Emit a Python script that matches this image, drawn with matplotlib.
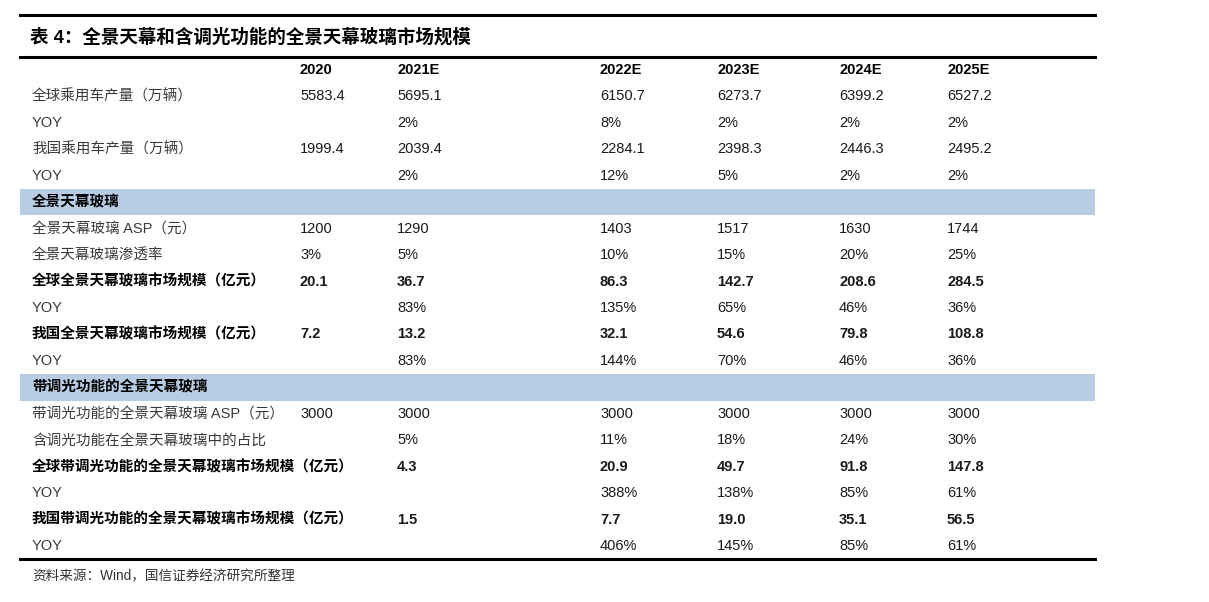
import matplotlib.pyplot as plt
from matplotlib.patches import Rectangle

plt.rcParams['font.family'] = ['Liberation Sans', 'Noto Sans CJK SC', 'DejaVu Sans']

title = '表 4：全景天幕和含调光功能的全景天幕玻璃市场规模'
source = '资料来源：Wind，国信证券经济研究所整理'

years = ['2020', '2021E', '2022E', '2023E', '2024E', '2025E']

labels = [
    '全球乘用车产量（万辆）', 'YOY', '我国乘用车产量（万辆）', 'YOY',
    '全景天幕玻璃',
    '全景天幕玻璃 ASP（元）', '全景天幕玻璃渗透率',
    '全球全景天幕玻璃市场规模（亿元）', 'YOY',
    '我国全景天幕玻璃市场规模（亿元）', 'YOY',
    '带调光功能的全景天幕玻璃',
    '带调光功能的全景天幕玻璃 ASP（元）', '含调光功能在全景天幕玻璃中的占比',
    '全球带调光功能的全景天幕玻璃市场规模（亿元）', 'YOY',
    '我国带调光功能的全景天幕玻璃市场规模（亿元）', 'YOY',
]
# 'b' = negrita, 's' = franja de seccion, 'n' = normal
row_kind = ['n', 'n', 'n', 'n', 's', 'n', 'n', 'b', 'n', 'b', 'n',
            's', 'n', 'n', 'b', 'n', 'b', 'n']

v2020 = ['5583.4', '', '1999.4', '', '', '1200', '3%', '20.1', '', '7.2', '',
         '', '3000', '', '', '', '', '']
v2021 = ['5695.1', '2%', '2039.4', '2%', '', '1290', '5%', '36.7', '83%', '13.2', '83%',
         '', '3000', '5%', '4.3', '', '1.5', '']
v2022 = ['6150.7', '8%', '2284.1', '12%', '', '1403', '10%', '86.3', '135%', '32.1', '144%',
         '', '3000', '11%', '20.9', '388%', '7.7', '406%']
v2023 = ['6273.7', '2%', '2398.3', '5%', '', '1517', '15%', '142.7', '65%', '54.6', '70%',
         '', '3000', '18%', '49.7', '138%', '19.0', '145%']
v2024 = ['6399.2', '2%', '2446.3', '2%', '', '1630', '20%', '208.6', '46%', '79.8', '46%',
         '', '3000', '24%', '91.8', '85%', '35.1', '85%']
v2025 = ['6527.2', '2%', '2495.2', '2%', '', '1744', '25%', '284.5', '36%', '108.8', '36%',
         '', '3000', '30%', '147.8', '61%', '56.5', '61%']
columns = [v2020, v2021, v2022, v2023, v2024, v2025]

# layout (en pixeles de la figura)
W, H = 1209, 602
left, right = 20, 1095
col_x = [300, 397, 600, 717, 839, 947]
label_x = 32
header_y = 70
row_h = 26.45
fs = 10.5
txt_color = '#1a1a1a'

fig = plt.figure(figsize=(W / 100, H / 100), dpi=100)
ax = fig.add_axes([0, 0, 1, 1])
ax.set_xlim(0, W)
ax.set_ylim(H, 0)
ax.axis('off')

# lineas superiores y titulo
ax.plot([left, right], [15, 15], color='black', lw=2.2)
ax.plot([left, right], [57, 57], color='black', lw=2.2)
ax.text(30, 37, title, fontsize=13.3, fontweight='bold', va='center', ha='left',
        color='black')

# encabezado
for x, y in zip(col_x, years):
    ax.text(x, header_y, y, fontsize=fs, fontweight='bold', va='center', ha='left',
            color='black')

# filas
for i, (lab, kind) in enumerate(zip(labels, row_kind)):
    y = header_y + row_h * (i + 1)
    if kind == 's':
        ax.add_patch(Rectangle((left, y - row_h / 2), right - left, row_h,
                               color='#b8cce4', lw=0, zorder=0))
        ax.text(label_x, y, lab, fontsize=fs, fontweight='bold', va='center',
                ha='left', color='black')
        continue
    w = 'bold' if kind == 'b' else 'normal'
    c = 'black' if kind == 'b' else '#3a3a3a'
    ax.text(label_x, y, lab, fontsize=fs, fontweight=w, va='center', ha='left', color=c)
    for x, col in zip(col_x, columns):
        if col[i]:
            ax.text(x, y, col[i], fontsize=fs, fontweight=w, va='center', ha='left',
                    color=txt_color)

# linea inferior y fuente
bottom_y = header_y + row_h * (len(labels) + 0.5)
ax.plot([left, right], [bottom_y, bottom_y], color='black', lw=2.2)
ax.text(label_x, bottom_y + 17, source, fontsize=9.8, va='center', ha='left',
        color='#333333')

plt.savefig('out.png', dpi=100)
